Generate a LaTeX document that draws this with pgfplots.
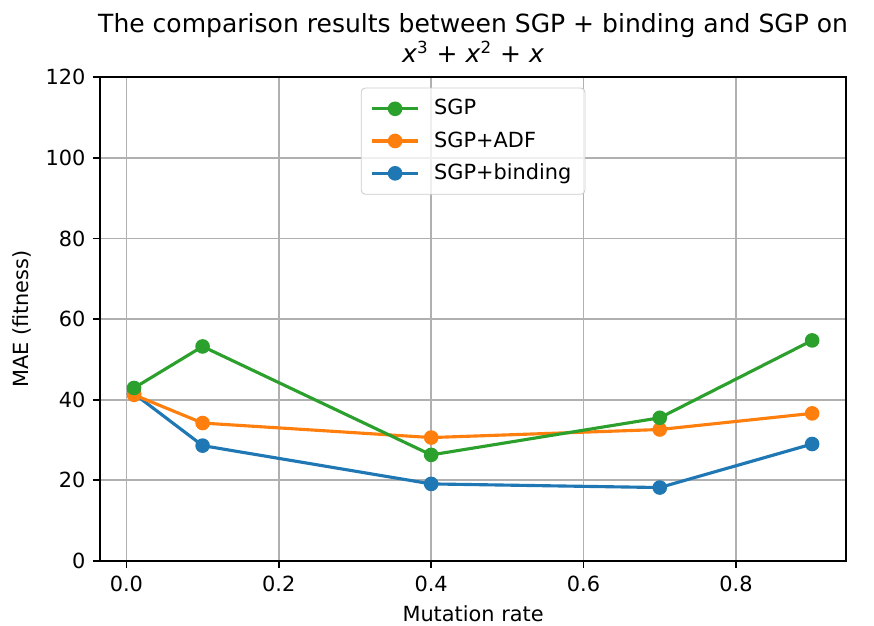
\documentclass[border=0pt]{standalone}
\usepackage{fontspec}
\setmainfont{DejaVu Sans}
\usepackage{pgfplots}
\pgfplotsset{compat=1.18}
\definecolor{tabblue}{HTML}{1F77B4}
\definecolor{taborange}{HTML}{FF7F0E}
\definecolor{tabgreen}{HTML}{2CA02C}
\definecolor{gridgray}{HTML}{B0B0B0}
\definecolor{leggray}{HTML}{CCCCCC}

\begin{document}
\begin{tikzpicture}
\begin{axis}[
    scale only axis,
    width=357.6pt, height=231.9pt,
    xmin=-0.0345, xmax=0.9445,
    ymin=0, ymax=120,
    xtick={0,0.2,0.4,0.6,0.8},
    ytick={0,20,40,60,80,100,120},
    xticklabel style={/pgf/number format/.cd, fixed, fixed zerofill, precision=1},
    /pgf/number format/assume math mode=true,
    ticklabel style={font=\fontsize{10}{12}\selectfont},
    tick pos=left,
    tick align=outside,
    major tick length=3.5pt,
    tick style={black, line width=0.8pt},
    axis line style={line width=0.8pt},
    grid=major,
    major grid style={gridgray, line width=0.8pt},
    xlabel={Mutation rate},
    ylabel={MAE (fitness)},
    label style={font=\fontsize{10}{12}\selectfont},
    title={The comparison results between SGP + binding and SGP on\\\textit{x}\textsuperscript{3} + \textit{x}\textsuperscript{2} + \textit{x}},
    title style={align=center, font=\fontsize{12}{14.4}\selectfont, yshift=-2.5pt},
    legend cell align=left,
    legend style={at={(0.5,1)}, anchor=north, yshift=-5pt,
        draw=leggray, rounded corners=2pt, fill=white, fill opacity=0.8,
        draw opacity=1, text opacity=1, font=\fontsize{10}{12}\selectfont,
        inner xsep=4.5pt, inner ysep=3.5pt, row sep=2.5pt,
        /tikz/every odd column/.append style={column sep=5pt}},
    legend image code/.code={
        \draw[mark repeat=2, mark phase=2, #1, fill opacity=1, draw opacity=1]
            plot coordinates {(0pt,0pt) (11pt,0pt) (22pt,0pt)};
    },
    every axis plot/.append style={line width=1.5pt, mark=*, mark size=3pt},
]
\addlegendimage{tabgreen, mark=*, mark size=3pt, line width=1.5pt, mark options={fill=tabgreen, line width=1pt}}
\addlegendentry{SGP}
\addlegendimage{taborange, mark=*, mark size=3pt, line width=1.5pt, mark options={fill=taborange, line width=1pt}}
\addlegendentry{SGP+ADF}
\addlegendimage{tabblue, mark=*, mark size=3pt, line width=1.5pt, mark options={fill=tabblue, line width=1pt}}
\addlegendentry{SGP+binding}

% binding drawn first so the others sit on top, as in the original
\addplot[tabblue, mark options={fill=tabblue, line width=1pt}, forget plot] coordinates {
    (0.01,41.5) (0.1,28.6) (0.4,19.1) (0.7,18.2) (0.9,29.0)
};
\addplot[taborange, mark options={fill=taborange, line width=1pt}, forget plot] coordinates {
    (0.01,41.2) (0.1,34.2) (0.4,30.6) (0.7,32.6) (0.9,36.6)
};
\addplot[tabgreen, mark options={fill=tabgreen, line width=1pt}, forget plot] coordinates {
    (0.01,42.9) (0.1,53.2) (0.4,26.3) (0.7,35.5) (0.9,54.7)
};
\end{axis}
\pgfresetboundingbox
\path[use as bounding box] ([xshift=-48pt,yshift=-31.2pt]current axis.south west)
    rectangle ([xshift=13.4pt,yshift=37pt]current axis.north east);
\end{tikzpicture}
\end{document}
